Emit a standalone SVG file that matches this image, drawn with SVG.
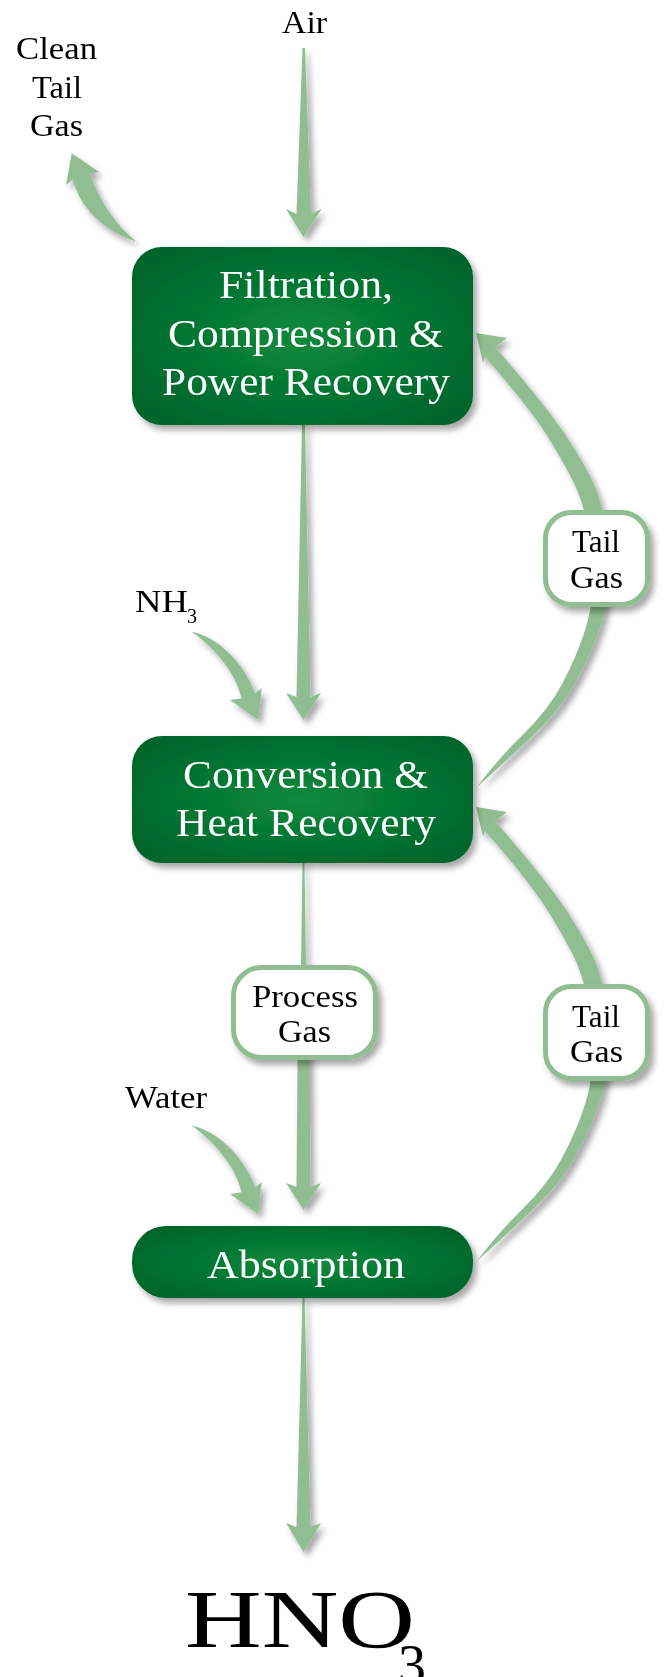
<svg xmlns="http://www.w3.org/2000/svg" width="668" height="1677" viewBox="0 0 668 1677">
<style>
text{font-family:"Liberation Serif","Times New Roman",serif;}
.lbl{font-size:32px;fill:#000;}
.box{font-size:40px;fill:#fff;}
.arr{fill:#90bd92;}
.pill{fill:#fff;stroke:#90bd92;stroke-width:5;}
</style>
<defs>
<radialGradient id="g" cx="50%" cy="50%" r="60%">
<stop offset="0" stop-color="#0a8a3d"/>
<stop offset="1" stop-color="#00652b"/>
</radialGradient>
<filter id="sh" filterUnits="userSpaceOnUse" x="0" y="0" width="668" height="1677">
<feGaussianBlur in="SourceAlpha" stdDeviation="3"/>
<feOffset dx="4" dy="5"/>
<feComponentTransfer><feFuncA type="linear" slope="0.35"/></feComponentTransfer>
<feMerge><feMergeNode/><feMergeNode in="SourceGraphic"/></feMerge>
</filter>
<path id="tailArrow" d="M477,787 Q507,760 533.5,735 Q560,710 574,685 Q588,660 597.5,635 Q607,610 608.5,585 Q610,560 606.5,535 Q603,510 597.5,493.5 Q592,477 571,443.5 Q550,410 495,347 L507,338 L476,333 L483,363 L485,357 Q532,410 552,443.5 Q572,477 578.5,493.5 Q585,510 589.5,535 Q594,560 593,585 Q592,610 583.5,635 Q575,660 561.5,685 Q548,710 522.5,735 Q497,760 477,787 Z"/>
<path id="feedArrow" d="M191.7,631.7 C215,636 243,660 255,693.3 L261.7,688.3 L258.3,720 L230,700 L241.7,698.3 C236,675 218,650 191.7,631.7 Z"/>
</defs>

<g id="connectors" class="arr" filter="url(#sh)">
<path id="air-arrow" d="M302.5,48 L305,48 L311,214 L321.5,209 L303.5,237 L286,209 L296.5,214 Z"/>
<path id="clean-arrow" d="M136.7,241.7 C118,228 97,198 90,173.3 L99.3,172.3 L71.7,153.3 L66,185 L72.7,179.3 C78,200 95,228 136.7,241.7 Z"/>
<path id="f1-c2" d="M302,425 L305,425 L310.5,697 L321,693 L303.5,720 L286,693 L296.5,697 Z"/>
<use id="nh3-arrow" href="#feedArrow"/>
<use id="tail-arrow-1" href="#tailArrow"/>
<path id="c2-abs" d="M302.5,863 L304.5,863 L306,965 L309.5,1059 L310.5,1187 L321,1183 L303.5,1210 L286,1183 L296.5,1187 L297.5,1059 L301,965 Z"/>
<use id="water-arrow" href="#feedArrow" transform="translate(0,494)"/>
<use id="tail-arrow-2" href="#tailArrow" transform="translate(0,474)"/>
<path id="abs-hno3" d="M302.5,1298 L304.5,1298 L310.5,1527 L321,1523 L303.5,1552 L286,1523 L296.5,1527 Z"/>
</g>

<g id="label-air"><text class="lbl" x="282" y="33" textLength="45" lengthAdjust="spacingAndGlyphs">Air</text></g>
<g id="label-clean">
<text class="lbl" x="16" y="59" textLength="81" lengthAdjust="spacingAndGlyphs">Clean</text>
<text class="lbl" x="32" y="98" textLength="50" lengthAdjust="spacingAndGlyphs">Tail</text>
<text class="lbl" x="30" y="136" textLength="53" lengthAdjust="spacingAndGlyphs">Gas</text>
</g>
<g id="label-nh3"><text class="lbl" x="135" y="612" textLength="53" lengthAdjust="spacingAndGlyphs">NH</text><text x="187" y="623" style="font-size:20px">3</text></g>
<g id="label-water"><text class="lbl" x="125" y="1108" textLength="82" lengthAdjust="spacingAndGlyphs">Water</text></g>

<g id="node-filtration" filter="url(#sh)">
<rect x="132" y="247" width="341" height="178" rx="30" fill="url(#g)"/>
<text class="box" x="219" y="298" textLength="174" lengthAdjust="spacingAndGlyphs">Filtration,</text>
<text class="box" x="168" y="347" textLength="275" lengthAdjust="spacingAndGlyphs">Compression &amp;</text>
<text class="box" x="162" y="395" textLength="288" lengthAdjust="spacingAndGlyphs">Power Recovery</text>
</g>

<g id="node-conversion" filter="url(#sh)">
<rect x="132" y="736" width="341" height="127" rx="30" fill="url(#g)"/>
<text class="box" x="183" y="788" textLength="245" lengthAdjust="spacingAndGlyphs">Conversion &amp;</text>
<text class="box" x="176" y="836" textLength="260" lengthAdjust="spacingAndGlyphs">Heat Recovery</text>
</g>

<g id="node-absorption" filter="url(#sh)">
<rect x="132" y="1226" width="341" height="72" rx="34" fill="url(#g)"/>
<text class="box" x="207" y="1278" textLength="198" lengthAdjust="spacingAndGlyphs">Absorption</text>
</g>

<g id="pill-tail-1" filter="url(#sh)">
<rect class="pill" x="545.5" y="512.5" width="102" height="92" rx="26"/>
<text class="lbl" x="572" y="552" textLength="48" lengthAdjust="spacingAndGlyphs">Tail</text>
<text class="lbl" x="570" y="588" textLength="53" lengthAdjust="spacingAndGlyphs">Gas</text>
</g>

<g id="pill-process" filter="url(#sh)">
<rect class="pill" x="233.5" y="967.5" width="142" height="90" rx="28"/>
<text class="lbl" x="252" y="1007" textLength="106" lengthAdjust="spacingAndGlyphs">Process</text>
<text class="lbl" x="278" y="1042" textLength="53" lengthAdjust="spacingAndGlyphs">Gas</text>
</g>

<g id="pill-tail-2" filter="url(#sh)">
<rect class="pill" x="545.5" y="986.5" width="102" height="92" rx="26"/>
<text class="lbl" x="572" y="1027" textLength="48" lengthAdjust="spacingAndGlyphs">Tail</text>
<text class="lbl" x="570" y="1062" textLength="53" lengthAdjust="spacingAndGlyphs">Gas</text>
</g>

<g id="label-hno3">
<text x="185" y="1647" textLength="230" lengthAdjust="spacingAndGlyphs" style="font-size:82px">HNO</text>
<text x="398" y="1684" style="font-size:56px">3</text>
</g>
</svg>
